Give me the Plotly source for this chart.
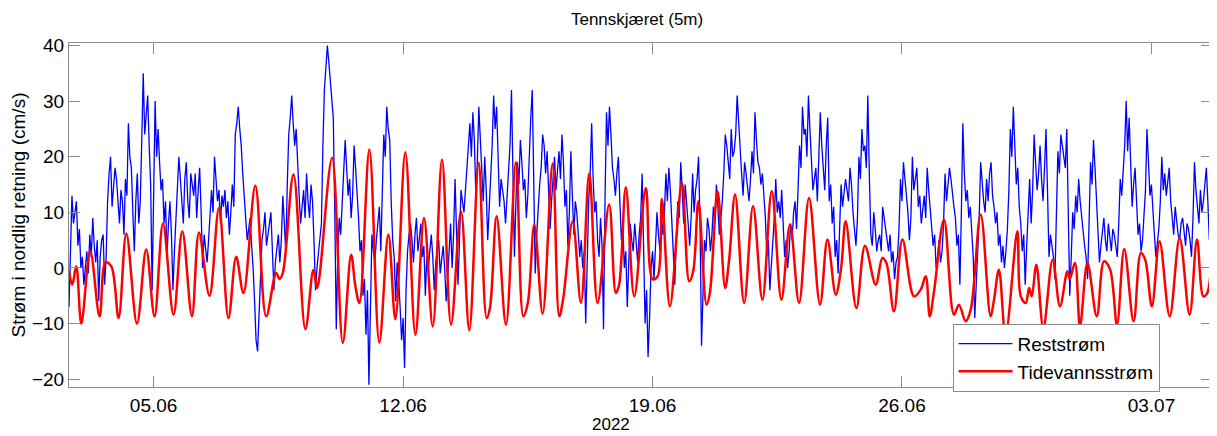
import pandas as pd
import plotly.graph_objects as go

# ---- data ----
start = pd.Timestamp("2022-06-02 15:00")

# Reststrøm (cm/s) at even hours after start (every 2 h)
rest_2h = [
    -7, 13, 10, 4, 0, -3, 3, 6, 9, 1,
    -6, 5, -3, 12, 20, 14, 16, 8, 12, 16,
    26, 18, 3, 17, 12, 35, 28, 22, -4, 30,
    25, 14, 8, 2, 12, -4, 9, 20, 12, 16,
    12, 17, 13, 9, 18, 0, 3, 5, 14, 20,
    12, 8, 11, 9, 6, 15, 24, 29, 22, 13,
    5, 9, 0, -13, -8, 5, 10, 6, 10, -4,
    4, 1, 13, 3, 24, 31, 22, 17, 8, 14,
    17, 9, 12, -4, 3, 8, 32, 40, 34, 27,
    -11, 9, 12, 23, 13, 9, 22, 14, 3, -5,
    -12, -21, 6, 1, 8, 3, 24, 29, 23, 5,
    -6, -2, -13, -18, 3, 8, 1, 9, 6, 2,
    -5, 0, 6, -4, 3, -1, 4, -6, 3, 0,
    16, -3, 14, 10, 19, 26, 28, 13, 29, 17,
    20, 5, 15, 31, 29, 11, 14, 8, 17, 32,
    2, 19, 23, 14, 9, 22, 32, -1, 12, 18,
    22, 21, 7, 17, 14, 21, 24, 11, 4, 21,
    6, 10, 2, 0, -10, 12, 26, 10, 5, 9,
    -11, 28, 29, 18, 13, 20, 5, 0, -7, 8,
    3, 4, 6, 17, -10, -16, 0, -2, 10, 3,
    6, 17, 18, 9, -3, 12, 19, 8, 12, 4,
    17, 14, 20, -14, 5, 9, 3, 11, 15, 6,
    12, 24, 19, 25, 21, 31, 20, 13, 17, 12,
    21, 28, 19, 15, 13, 2, -4, 5, 16, 12,
    14, 2, 0, 8, 10, 7, 22, 29, 25, 31,
    20, 16, 12, 28, 18, 22, 12, 8, 2, -1,
    15, 13, 14, 18, 10, 4, 20, 25, 22, 31,
    6, 10, 3, 6, 11, 7, 3, 1, -2, 2,
    16, 19, 13, 5, 20, 16, 11, 8, 13, 18,
    10, 4, 0, 5, 3, 17, 15, 16, 11, 4,
    -3, 26, 12, 9, 6, -9, 2, 19, 12, 16,
    17, 13, 8, 4, 1, 0, 7, 25, 29, 15,
    11, 3, -3, 12, 8, 24, 14, 22, 12, 25,
    2, 4, -2, 21, 24, 20, 25, -5, 10, 13,
    16, 9, 4, -2, 19, 23, 12, 1, 7, 5,
    8, 3, 6, 2, 16, 18, 30, 27, 11, 18,
    6, 3, 10, 25, 13, 9, 2, 7, 20, 17,
    16, 12, 6, 8, 5, 9, 4, 7, 2, 19,
    11, 14, 12, 18, 5, 14,
]
# Reststrøm (cm/s) at the odd hours in between
rest_mid = [
    5, 8, 12, 7, 2, 0, -1, 2, 4, 5,
    2, 6, 2, 17, 11, 18, 11, 14, 6, 13,
    20, 10, 12, 8, 23, 24, 31, 15, 10, 20,
    19, 16, 12, 8, 6, 3, 14, 16, 8, 19,
    9, 15, 17, 14, 10, 6, 1, 9, 10, 16,
    14, 13, 14, 12, 10, 11, 26, 25, 17, 9,
    7, 4, -6, -15, -2, 7, 4, 8, 3, 1,
    6, 5, 8, 15, 27, 26, 25, 13, 11, 9,
    12, 15, 5, 0, 6, 22, 36, 37, 30, 10,
    2, 6, 15, 18, 16, 13, 18, 9, 5, -2,
    -4, -6, 3, 5, 11, 14, 20, 25, 12, 2,
    1, -7, -9, -4, 6, 5, 6, 3, 8, 4,
    2, 3, 2, 1, 5, 2, 0, -2, 8, 6,
    6, 5, 12, 14, 22, 20, 23, 19, 24, 12,
    14, 10, 22, 25, 20, 16, 12, 13, 22, 18,
    12, 15, 19, 16, 13, 27, 14, 6, 15, 24,
    17, 15, 12, 20, 17, 16, 19, 14, 10, 13,
    12, 6, 5, 3, 1, 17, 16, 12, 2, 4,
    12, 22, 24, 16, 17, 12, 8, 3, 1, 5,
    8, 1, 9, 6, -4, -9, 3, 4, 6, 9,
    10, 12, 14, 4, 5, 9, 14, 15, 8, 9,
    10, 16, 8, -3, 3, 7, 6, 8, 11, 9,
    17, 22, 16, 20, 24, 26, 17, 19, 14, 16,
    17, 23, 18, 17, 9, 5, 0, 9, 10, 9,
    8, 5, 3, 5, 12, 14, 18, 24, 20, 25,
    14, 18, 19, 22, 14, 27, 15, 11, 5, 8,
    11, 16, 12, 15, 7, 9, 16, 21, 18, 17,
    4, 7, 5, 3, 9, 5, 6, 3, 1, 7,
    12, 16, 10, 9, 14, 18, 13, 10, 9, 14,
    7, 6, 2, 1, 8, 12, 18, 13, 9, 6,
    10, 17, 14, 11, 2, -3, 9, 15, 10, 12,
    19, 11, 10, 6, 4, 3, 14, 20, 22, 18,
    8, 6, 4, 16, 14, 18, 17, 16, 18, 14,
    6, 2, 9, 17, 22, 18, 10, 2, 7, 10,
    12, 7, 2, 8, 15, 18, 8, 4, 9, 3,
    6, 7, 4, 8, 13, 22, 21, 20, 15, 12,
    8, 5, 14, 18, 15, 6, 4, 12, 14, 13,
    18, 9, 11, 6, 8, 6, 8, 5, 9, 14,
    8, 10, 15, 12, 9,
]

# Tidevannsstrøm: turning points (hours after start) and values (cm/s)
tide_hours = [
    0, 2.2, 4.9, 8.3, 14.3, 20.6, 24.6, 28.5, 33.4, 38.6, 45.8, 52, 57.6, 63.3, 70.4, 76.3,
    82.8, 87.5, 94.6, 101, 107.4, 112.6, 117.5, 125.5,
    132.8, 139.5, 141.8, 144, 151.2, 159.2, 164.6, 167.1, 168.7, 177.2, 184.4, 190, 192.9,
    195.6, 202.3, 209, 215.1, 219.8, 226.5, 233.3, 239.1, 245, 251.2,
    257.3, 264, 269.6, 275.9, 281.3, 283.5, 288, 294.3, 301, 306, 309, 313.4, 319, 325.7,
    330.2, 332.9, 339.2, 344.8, 350.4, 356, 363.8, 368.3, 370.5, 375, 380.7,
    388.5, 393, 396.4, 399.3, 404.7, 412.8, 417.7, 420.4, 423.9, 429.4, 431.6, 436.8, 441.9,
    444.6, 448.6, 454.7, 460.7, 467, 473.3, 479.8, 485.6, 491.7, 498.4, 505.8, 510.8,
    516.4, 520, 523.1, 530.3, 536.1, 543.3, 547.8, 550.5, 555.6, 561.3, 569.1, 573.6, 577,
    579.7, 582.6, 589.3, 596, 599.4, 603.9, 607.3, 614, 620.7, 623, 626.3, 630.8, 638.7,
    641, 644.4, 646.6, 648.4, 651.5, 656.2, 662.5, 667.4, 672.4, 674, 677.5, 680.9, 685.9,
    692.2, 697.1, 701.2, 705.8, 710.7, 717, 721.9, 724.8, 729.3, 734.5, 741.3, 748, 754.7,
    759.7, 764, 766.6, 770.2,
]
tidevann = [
    -0.6, -3, 0.3, -10, 3, -8.7, 1, 0.3, -9, 6.2, -10, 3.3, -8.7, 8, -8.4, 6.6,
    -8.7, 6.4, -5, 10.8, -9, 2, -4.5, 14.8,
    -8.7, -0.9, -2, -0.9, 16.8, -11, -0.3, -3.6, -1.5, 19.8, -13.5, 2.4, -3.3,
    -6.3, 21.3, -13.4, 6, -9.2, 20.8, -12, 9, -10.5, 19.5,
    -10.2, 10.2, -11.2, 18.9, -9, -7.2, 9.3, -10.2, 19, -8.7, -6.3, 7.8, -8.2, 18.8,
    -8.7, -5.4, 8.4, -6.3, 17, -6.3, 11.4, -4.5, -3, 14.5, -5.1,
    14.4, -2, -1.5, 12.4, -6.9, 15.3, -2.4, -0.6, 12, -6.6, -4.5, 13.8, -3.6,
    1.5, 13.2, -6.3, 11.1, -5.7, 13.8, -5.7, 7.8, -6.3, 12.6, -6.6, 5.1,
    -4.8, 0, 8.4, -7.2, 4, -3, 1.8, 0.9, -7.8, 5.1, -5.1, -3.9, -1.5,
    -8.7, -4.2, 8.7, -8.4, -6.6, -9.6, -7.5, 9.6, -8.7, -5.7, -0.3, -12, 6.6,
    -5.1, -6.3, -3.6, -5.1, 0.6, -10.8, 1.5, -6.9, -0.6, -2, 0.9, -10.5, 0.9,
    -8.7, 1.2, -0.3, -10.2, 3.4, -9.6, 2.7, 1.5, -6.9, 4.8, -8.7, 5.4, -8.4,
    5.1, -5.1, -4.5, 8.1,
]

tick_dates = ["2022-06-05", "2022-06-12", "2022-06-19", "2022-06-26", "2022-07-03"]
tick_labels = ["05.06", "12.06", "19.06", "26.06", "03.07"]
y_ticks = [-20, -10, 0, 10, 20, 30, 40]

assert len(tide_hours) == len(tidevann)
assert len(rest_mid) == len(rest_2h) - 1

# interleave the 2-hourly readings with the in-between readings -> hourly series
reststrom = []
for a, b in zip(rest_2h[:-1], rest_mid):
    reststrom += [a, b]
reststrom.append(rest_2h[-1])

rest_time = pd.date_range(start, periods=len(reststrom), freq="1h")
tide_time = start + pd.to_timedelta(tide_hours, unit="h")

AXIS_GREY = "#8a8a8a"
FONT = "Liberation Sans, Arial, sans-serif"

fig = go.Figure()
fig.add_trace(go.Scatter(
    x=rest_time, y=reststrom, mode="lines", name="Reststrøm",
    line=dict(color="#0000ff", width=1.3),
))
fig.add_trace(go.Scatter(
    x=tide_time, y=tidevann, mode="lines", name="Tidevannsstrøm",
    line=dict(color="#ff0000", width=2.5, shape="spline", smoothing=1.0),
))

# page body has an 8 px margin: figure is 1209x428 so the page is 1217x436
fig.update_layout(
    width=1209, height=428,
    margin=dict(l=61, r=4.5, t=35, b=48.5),
    plot_bgcolor="white", paper_bgcolor="white",
    font=dict(family=FONT, size=19, color="black"),
    title=dict(text="Tennskjæret (5m)", x=0.497, xref="paper", xanchor="center",
               y=1 - 11 / 428, yref="container", yanchor="middle",
               font=dict(size=17, color="black")),
    showlegend=True,
    legend=dict(x=0.773, y=0.184, xanchor="left", yanchor="top",
                bgcolor="white", bordercolor=AXIS_GREY, borderwidth=1,
                itemwidth=54,
                font=dict(size=19, color="black"), tracegroupgap=0),
    annotations=[dict(text="2022", xref="paper", yref="paper", x=0.474, y=-0.109,
                      xanchor="center", yanchor="middle", showarrow=False,
                      font=dict(size=17, color="black"))],
)

fig.update_xaxes(
    type="date",
    range=[start, start + pd.Timedelta(hours=769.8)],
    tickvals=tick_dates, ticktext=tick_labels,
    ticks="inside", ticklen=11, tickcolor=AXIS_GREY, tickwidth=1,
    showline=True, linecolor=AXIS_GREY, linewidth=1, mirror="allticks",
    showgrid=False, zeroline=False, ticklabelstandoff=1,
    tickfont=dict(size=19, color="black"),
)
fig.update_yaxes(
    range=[-21.4, 40.45],
    tickvals=y_ticks,
    ticks="inside", ticklen=11, tickcolor=AXIS_GREY, tickwidth=1,
    showline=True, linecolor=AXIS_GREY, linewidth=1, mirror="allticks",
    showgrid=False, zeroline=False,
    tickfont=dict(size=19, color="black"),
    title=dict(text="Strøm i nordlig retning (cm/s)", font=dict(size=19, color="black"), standoff=4),
)

fig.write_html("out.html")
